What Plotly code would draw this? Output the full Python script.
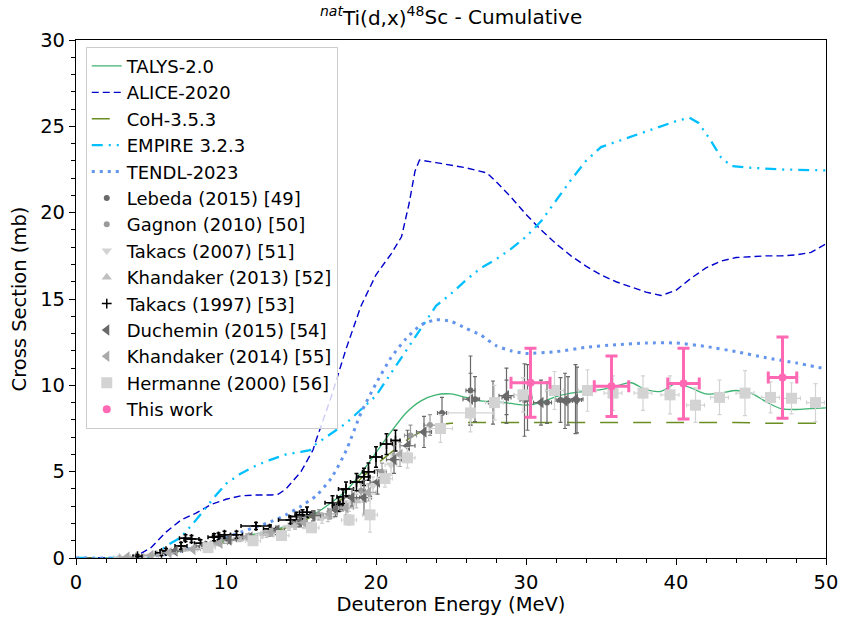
import plotly.graph_objects as go

# ---- model calculations ----
talys_e = [0, 2, 4, 5, 6, 7, 8, 9, 10, 11, 12, 13, 14, 15, 16, 17, 18, 19, 20, 21, 22, 23, 24, 25,
           26, 27, 28, 29, 30, 31, 32, 33, 34, 35, 36, 37, 38, 39, 40, 41, 42, 43, 44, 45, 46, 47,
           48, 49, 50]
talys_xs = [0, 0, 0.05, 0.15, 0.3, 0.45, 0.65, 0.85, 1.0, 1.2, 1.4, 1.55, 1.85, 2.2, 2.6, 3.2, 3.9,
            4.9, 6.1, 7.3, 8.4, 9.1, 9.45, 9.5, 9.3, 9.1, 9.05, 8.95, 8.85, 9.0, 9.35, 9.55, 9.65,
            9.75, 9.95, 10.15, 9.75, 9.65, 10.1, 9.85, 9.5, 9.55, 9.7, 9.55, 9.05, 8.65, 8.6, 8.65, 8.7]

alice_e = [0, 3.5, 4, 5, 6, 7, 8, 9, 10, 11, 12, 13, 13.5, 14, 15, 15.8, 16, 17, 18, 19, 20, 21,
           21.7, 22.2, 22.6, 22.9, 24, 25, 26, 27.4, 28, 29, 30, 31, 32, 33, 34, 35, 36, 37, 38, 39,
           40, 41, 42, 43, 44, 45, 46, 47, 48, 49, 50]
alice_xs = [0, 0, 0.1, 0.6, 1.5, 2.2, 2.6, 3.1, 3.4, 3.6, 3.65, 3.65, 3.7, 4.0, 5.0, 6.25, 6.8, 9.3,
            12.1, 14.6, 16.4, 17.6, 18.6, 20.5, 22.4, 23.05, 22.9, 22.75, 22.6, 22.3, 21.8, 20.9,
            19.9, 19.0, 18.2, 17.5, 16.9, 16.4, 16.0, 15.7, 15.4, 15.2, 15.5, 16.2, 16.8, 17.2,
            17.4, 17.45, 17.5, 17.5, 17.55, 17.7, 18.2]

coh_e = [0, 2, 4, 5, 6, 7, 8, 9, 10, 11, 12, 13, 14, 15, 16, 17, 18, 19, 20, 21, 22, 23, 24, 25,
         26, 27, 28, 30, 32, 34, 36, 38, 40, 42, 44, 46, 48, 50]
coh_xs = [0, 0, 0.05, 0.12, 0.25, 0.4, 0.55, 0.75, 0.95, 1.1, 1.3, 1.5, 1.75, 2.1, 2.5, 3.0, 3.6,
          4.6, 5.4, 6.1, 6.8, 7.3, 7.65, 7.8, 7.85, 7.85, 7.85, 7.85, 7.85, 7.85, 7.85, 7.85, 7.85,
          7.85, 7.85, 7.8, 7.8, 7.8]

empire_e = [0, 5.2, 6, 7, 7.5, 8, 9.3, 10, 11, 12, 13, 14, 15, 15.6, 16, 17, 18, 19, 20, 21, 22, 23,
            24, 25, 26, 27, 28, 29, 30, 31, 32, 33, 34, 35, 36, 37, 38, 39, 40, 40.9, 41.5, 42.3,
            43, 43.7, 45, 47, 49, 50]
empire_xs = [0, 0, 0.7, 1.2, 1.7, 2.2, 3.6, 4.3, 4.9, 5.35, 5.7, 6.0, 6.15, 6.25, 6.6, 7.2, 7.8,
             8.6, 9.4, 10.7, 12.0, 13.3, 14.6, 15.3, 16.1, 16.8, 17.3, 17.9, 18.6, 19.5, 20.7,
             21.9, 23.0, 23.8, 24.1, 24.4, 24.7, 25.0, 25.3, 25.5, 25.2, 24.2, 23.2, 22.7, 22.6,
             22.5, 22.45, 22.45]

tendl_e = [0, 4, 5, 6, 7, 8, 9, 10, 11, 12, 13, 14, 15, 16, 17, 18, 19, 20, 21, 22, 23, 24, 25,
           26, 27, 28, 29, 30, 32, 34, 36, 38, 40, 42, 44, 46, 48, 50]
tendl_xs = [0, 0, 0.1, 0.2, 0.4, 0.65, 0.9, 1.2, 1.5, 1.8, 2.1, 2.5, 3.0, 3.6, 4.6, 6.2, 8.4, 10.1,
            11.6, 12.7, 13.5, 13.8, 13.7, 13.3, 12.9, 12.3, 12.0, 11.85, 11.95, 12.2, 12.35, 12.45,
            12.45, 12.25, 11.95, 11.6, 11.3, 10.95]

# ---- experimental data ----
lebeda_e = [24.4, 26.3, 26.6, 27.8, 28.7, 29.9, 30.1, 31.4, 32.3, 32.8, 33.4]
lebeda_xs = [8.4, 9.7, 9.2, 9.0, 9.3, 9.15, 9.3, 9.0, 9.15, 9.1, 9.15]
lebeda_de = [0.3, 0.3, 0.3, 0.3, 0.3, 0.3, 0.3, 0.3, 0.3, 0.3, 0.3]
lebeda_dxs = [0.9, 2.0, 1.3, 1.25, 1.0, 2.1, 1.9, 1.2, 1.3, 1.4, 1.9]

gagnon_e = [9.3, 11.0, 12.9, 14.6, 16.2, 17.6, 19.0, 20.4, 22.3, 23.6]
gagnon_xs = [0.85, 1.15, 1.45, 1.95, 2.5, 3.0, 3.9, 5.0, 7.1, 7.7]
gagnon_de = [0.3, 0.3, 0.3, 0.3, 0.3, 0.3, 0.3, 0.3, 0.4, 0.4]
gagnon_dxs = [0.1, 0.15, 0.2, 0.2, 0.3, 0.3, 0.4, 0.5, 0.6, 0.6]

takacs07_e = [4.6, 6.3, 8.1, 10.3, 12.4, 14.2, 16.4, 18.2, 19.8, 21.0]
takacs07_xs = [0.12, 0.3, 0.6, 1.0, 1.35, 1.8, 2.3, 3.1, 4.2, 5.4]
takacs07_de = [0.4, 0.4, 0.4, 0.4, 0.4, 0.4, 0.4, 0.4, 0.4, 0.4]
takacs07_dxs = [0.05, 0.1, 0.1, 0.15, 0.2, 0.2, 0.3, 0.4, 0.5, 0.6]

khand13_e = [2.9, 4.0, 5.4, 7.2, 9.0, 10.9, 12.7, 14.6, 16.8, 18.7]
khand13_xs = [0.03, 0.1, 0.22, 0.5, 0.8, 1.1, 1.4, 1.9, 2.4, 3.3]
khand13_de = [0.4, 0.4, 0.4, 0.4, 0.4, 0.4, 0.4, 0.4, 0.4, 0.4]
khand13_dxs = [0.03, 0.05, 0.08, 0.1, 0.12, 0.15, 0.2, 0.25, 0.3, 0.4]

takacs97_e = [4.1, 5.7, 6.0, 7.0, 7.3, 7.7, 8.3, 9.2, 9.5, 9.9, 10.7, 12.0, 12.9, 14.3, 14.7,
              15.1, 15.4, 17.1, 17.5, 17.8, 18.0, 18.7, 19.2, 19.5, 20.0, 20.7, 21.3]
takacs97_xs = [0.1, 0.3, 0.4, 0.7, 1.15, 1.1, 0.85, 1.2, 1.25, 1.35, 1.35, 1.85, 1.7, 2.2, 2.4,
               2.5, 2.65, 3.2, 3.1, 3.55, 4.0, 4.4, 4.7, 5.0, 5.85, 6.6, 6.8]
takacs97_de = [0.3, 0.4, 0.4, 0.4, 0.4, 0.5, 0.4, 0.4, 0.4, 0.4, 0.4, 1.0, 0.4, 0.8, 0.5, 0.5,
               0.5, 0.5, 0.3, 0.4, 0.5, 0.4, 0.4, 0.4, 0.4, 0.4, 0.3]
takacs97_dxs = [0.1, 0.15, 0.15, 0.2, 0.2, 0.2, 0.2, 0.2, 0.2, 0.2, 0.2, 0.2, 0.2, 0.2, 0.25,
                0.3, 0.3, 0.4, 0.4, 0.4, 0.4, 0.5, 0.5, 0.5, 0.6, 0.6, 0.6]

duchemin_e = [6.6, 8.5, 10.2, 11.6, 13.4, 14.9, 15.8, 17.3, 18.4, 19.2, 20.1, 21.2, 22.1, 23.2,
              26.3, 28.7, 31.0, 32.6, 33.3]
duchemin_xs = [0.4, 0.7, 1.05, 1.2, 1.6, 2.1, 2.45, 2.8, 3.5, 3.5, 4.4, 5.7, 6.5, 7.3, 9.2, 9.4,
               9.0, 9.1, 9.2]
duchemin_de = [0.5, 0.5, 0.5, 0.5, 0.5, 0.5, 0.5, 0.5, 0.5, 0.5, 0.5, 0.5, 0.5, 0.5, 0.5, 0.5,
               0.5, 0.5, 0.5]
duchemin_dxs = [0.1, 0.15, 0.2, 0.2, 0.25, 0.3, 0.3, 0.4, 0.5, 1.0, 0.7, 0.8, 0.9, 0.9, 1.5, 1.6,
                1.3, 1.6, 2.0]

khand14_e = [3.4, 5.0, 6.2, 7.8, 9.6, 11.4, 13.0, 15.2, 16.9, 18.0, 19.5, 21.6]
khand14_xs = [0.05, 0.15, 0.3, 0.5, 0.85, 1.2, 1.5, 2.05, 2.55, 2.9, 3.8, 6.0]
khand14_de = [0.5, 0.5, 0.5, 0.5, 0.5, 0.5, 0.5, 0.5, 0.5, 0.5, 0.5, 0.5]
khand14_dxs = [0.03, 0.05, 0.08, 0.1, 0.15, 0.2, 0.2, 0.3, 0.3, 0.4, 0.5, 0.7]

hermanne_e = [8.8, 11.8, 13.7, 15.7, 18.2, 19.6, 20.6, 22.1, 24.3, 26.3, 27.9, 29.8, 31.9, 34.1,
              35.8, 37.8, 39.6, 41.3, 42.9, 44.6, 46.3, 47.7, 49.3]
hermanne_xs = [0.6, 1.0, 1.3, 1.75, 2.2, 2.5, 4.6, 5.8, 7.5, 8.4, 9.0, 9.45, 9.7, 9.7, 9.55,
               9.55, 9.45, 8.85, 9.3, 9.55, 9.3, 9.25, 9.0]
hermanne_de = [0.5, 0.5, 0.5, 0.5, 0.5, 0.5, 0.5, 0.5, 0.8, 1.5, 0.6, 0.6, 0.6, 0.6, 0.6, 0.6,
               0.6, 0.6, 0.6, 0.6, 0.6, 0.6, 0.6]
hermanne_dxs = [0.1, 0.15, 0.2, 0.25, 0.3, 1.0, 0.5, 0.6, 0.8, 1.1, 1.0, 1.0, 1.1, 1.2, 1.0, 1.0,
                1.1, 1.0, 1.0, 1.3, 0.9, 0.9, 1.1]

this_e = [30.3, 35.7, 40.5, 47.1]
this_xs = [10.15, 9.95, 10.1, 10.45]
this_de = [1.3, 1.15, 1.05, 0.95]
this_dxs = [2.0, 1.75, 2.05, 2.35]

FONT = "DejaVu Sans"

fig = go.Figure()

# model curves
fig.add_trace(go.Scatter(x=talys_e, y=talys_xs, mode="lines", name="TALYS-2.0",
                         line=dict(color="mediumseagreen", width=1.3, shape="spline", smoothing=0.8)))
fig.add_trace(go.Scatter(x=alice_e, y=alice_xs, mode="lines", name="ALICE-2020",
                         line=dict(color="mediumblue", width=1.4, dash="7px,4px")))
fig.add_trace(go.Scatter(x=coh_e, y=coh_xs, mode="lines", name="CoH-3.5.3",
                         line=dict(color="olivedrab", width=1.5, dash="18px,15px",
                                   shape="spline", smoothing=0.6)))
fig.add_trace(go.Scatter(x=empire_e, y=empire_xs, mode="lines", name="EMPIRE 3.2.3",
                         line=dict(color="deepskyblue", width=2.3,
                                   dash="11px,6px,2px,6px,2px,6px")))
fig.add_trace(go.Scatter(x=tendl_e, y=tendl_xs, mode="lines", name="TENDL-2023",
                         line=dict(color="cornflowerblue", width=3, dash="3px,5px",
                                   shape="spline", smoothing=0.6)))


def data_trace(name, e, xs, de, dxs, color, symbol, size, lw=1.2, cap=2):
    return go.Scatter(
        x=e, y=xs, mode="markers", name=name,
        marker=dict(color=color, symbol=symbol, size=size, line=dict(width=0)),
        error_x=dict(type="data", array=de, color=color, thickness=lw, width=cap),
        error_y=dict(type="data", array=dxs, color=color, thickness=lw, width=cap),
    )


fig.add_trace(data_trace("Lebeda (2015) [49]", lebeda_e, lebeda_xs, lebeda_de, lebeda_dxs,
                         "dimgray", "circle", 6))
fig.add_trace(data_trace("Gagnon (2010) [50]", gagnon_e, gagnon_xs, gagnon_de, gagnon_dxs,
                         "#9a9a9a", "circle", 6))
fig.add_trace(data_trace("Takacs (2007) [51]", takacs07_e, takacs07_xs, takacs07_de, takacs07_dxs,
                         "lightgrey", "triangle-down", 9))
fig.add_trace(data_trace("Khandaker (2013) [52]", khand13_e, khand13_xs, khand13_de, khand13_dxs,
                         "silver", "triangle-up", 9))
fig.add_trace(data_trace("Takacs (1997) [53]", takacs97_e, takacs97_xs, takacs97_de, takacs97_dxs,
                         "black", "cross-thin", 7, lw=1.5))
fig.add_trace(data_trace("Duchemin (2015) [54]", duchemin_e, duchemin_xs, duchemin_de,
                         duchemin_dxs, "dimgray", "triangle-left", 10))
fig.add_trace(data_trace("Khandaker (2014) [55]", khand14_e, khand14_xs, khand14_de, khand14_dxs,
                         "darkgray", "triangle-left", 10))
fig.add_trace(data_trace("Hermanne (2000) [56]", hermanne_e, hermanne_xs, hermanne_de,
                         hermanne_dxs, "lightgrey", "square", 11))
fig.add_trace(data_trace("This work", this_e, this_xs, this_de, this_dxs,
                         "hotpink", "circle", 8, lw=3, cap=6))
# the thin cross needs a visible outline
fig.data[9].marker.line = dict(width=1.5, color="black")

axis_common = dict(
    showgrid=False, zeroline=False, showline=True, mirror=True,
    linecolor="black", linewidth=1.2, automargin=False,
    ticks="outside", ticklen=6, tickwidth=1.2, tickcolor="black",
    tickfont=dict(family=FONT, size=19.5, color="black"),
)

fig.update_layout(
    width=844, height=625,
    margin=dict(l=76, r=18, t=40, b=67),
    paper_bgcolor="white", plot_bgcolor="white",
    font=dict(family=FONT, size=19.5, color="black"),
    title=dict(text="<sup><i>nat</i></sup>Ti(d,x)<sup>48</sup>Sc - Cumulative",
               x=0.5345, xanchor="center", y=0.972, yanchor="middle",
               font=dict(family=FONT, size=20)),
    xaxis=dict(range=[0, 50], dtick=10, tick0=0,
               minor=dict(dtick=2, ticks="outside", ticklen=3.5, tickcolor="black", tickwidth=1),
               title=dict(text="Deuteron Energy (MeV)", font=dict(family=FONT, size=19.5), standoff=4),
               **axis_common),
    yaxis=dict(range=[0, 30], dtick=5, tick0=0,
               minor=dict(dtick=1, ticks="outside", ticklen=3.5, tickcolor="black", tickwidth=1),
               title=dict(text="Cross Section (mb)", font=dict(family=FONT, size=19.5), standoff=8),
               **axis_common),
    legend=dict(x=0.013, y=0.987, xanchor="left", yanchor="top",
                bgcolor="rgba(255,255,255,0.8)", bordercolor="#cccccc", borderwidth=1,
                font=dict(family=FONT, size=18), tracegroupgap=0),
    showlegend=True,
)

fig.write_html("out.html")
